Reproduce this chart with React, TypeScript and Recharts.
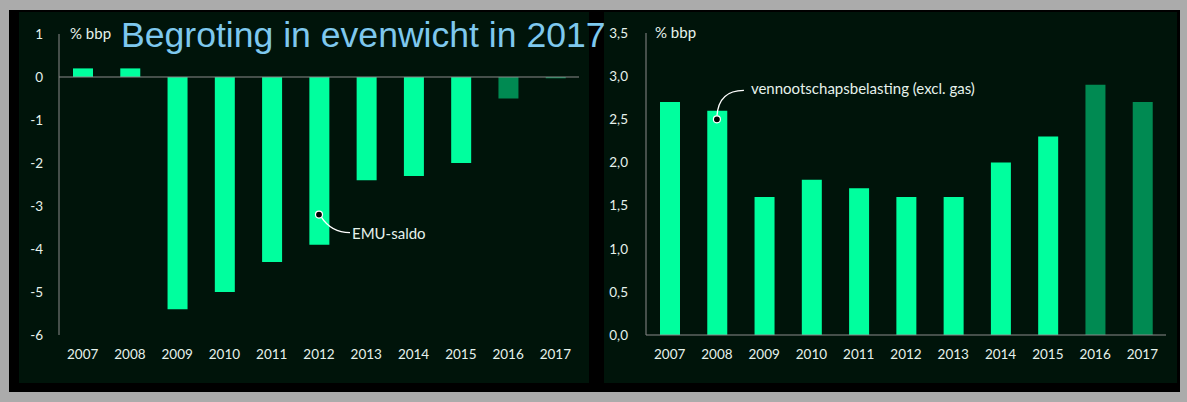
import { BarChart, Bar, XAxis, YAxis, Cell, ReferenceLine, ReferenceDot } from "recharts";

const years = ["2007", "2008", "2009", "2010", "2011", "2012", "2013", "2014", "2015", "2016", "2017"];
const emuSaldo = [0.2, 0.2, -5.4, -5.0, -4.3, -3.9, -2.4, -2.3, -2.0, -0.5, -0.03];
const vpb = [2.7, 2.6, 1.6, 1.8, 1.7, 1.6, 1.6, 2.0, 2.3, 2.9, 2.7];
const forecastYears = ["2016", "2017"];
const leftTicks = [-6, -5, -4, -3, -2, -1, 0, 1];
const rightTicks = [0, 0.5, 1, 1.5, 2, 2.5, 3, 3.5];

const title = "Begroting in evenwicht in 2017";
const unitLabel = "% bbp";
const leftNote = "EMU-saldo";
const rightNote = "vennootschapsbelasting (excl. gas)";

const BRIGHT = "#00ff9e";
const DARK = "#008a52";
const PANEL = "#00140a";
const TEXT = "#e6f2ec";
const AXIS = "#8a8a8a";
const FONT = "Lato, 'Open Sans', sans-serif";

const leftData = years.map((year, i) => ({ year, value: emuSaldo[i] }));
const rightData = years.map((year, i) => ({ year, value: vpb[i] }));

const tickStyle = { fill: TEXT, fontSize: 13.5, fontFamily: FONT };

function LeftNote(props: any) {
  const { cx, cy } = props;
  return (
    <g>
      <path
        d={`M ${cx + 2} ${cy + 2} C ${cx + 9} ${cy + 13}, ${cx + 18} ${cy + 18}, ${cx + 31} ${cy + 18}`}
        stroke="#ffffff"
        strokeWidth={1.3}
        fill="none"
      />
      <circle cx={cx} cy={cy} r={3.5} fill="#000" stroke="#fff" strokeWidth={1.2} />
      <text x={cx + 33} y={cy + 24} fill={TEXT} fontSize={15} fontFamily={FONT}>
        {leftNote}
      </text>
    </g>
  );
}

function RightNote(props: any) {
  const { cx, cy } = props;
  return (
    <g>
      <path
        d={`M ${cx} ${cy - 3} C ${cx + 1} ${cy - 20}, ${cx + 9} ${cy - 29}, ${cx + 27} ${cy - 29}`}
        stroke="#ffffff"
        strokeWidth={1.3}
        fill="none"
      />
      <circle cx={cx} cy={cy} r={3.5} fill="#000" stroke="#fff" strokeWidth={1.2} />
      <text x={cx + 34} y={cy - 25} fill={TEXT} fontSize={15} fontFamily={FONT}>
        {rightNote}
      </text>
    </g>
  );
}

export default function App() {
  return (
    <div
      style={{
        position: "absolute",
        left: 0,
        top: 0,
        width: 1187,
        height: 402,
        background: "#ababab",
        fontFamily: FONT,
      }}
    >
      <div style={{ position: "absolute", left: 9, top: 10, width: 1171, height: 382, background: "#000" }} />

      {/* left panel: EMU-saldo */}
      <div style={{ position: "absolute", left: 19, top: 12, width: 570, height: 371, background: PANEL }}>
        <BarChart width={570} height={371} data={leftData} margin={{ top: 22, right: 10, bottom: 18, left: 0 }}>
          <XAxis
            dataKey="year"
            axisLine={false}
            tickLine={false}
            tickSize={6}
            tickMargin={8}
            height={30}
            tick={tickStyle}
            interval={0}
          />
          <YAxis
            domain={[-6, 1]}
            ticks={leftTicks}
            width={40}
            axisLine={{ stroke: AXIS }}
            tickLine={false}
            tickSize={6}
            tickMargin={10}
            tick={tickStyle}
            interval={0}
          />
          <ReferenceLine y={0} stroke={AXIS} />
          <Bar dataKey="value" barSize={20} isAnimationActive={false}>
            {leftData.map((d) => (
              <Cell key={d.year} fill={forecastYears.includes(d.year) ? DARK : BRIGHT} />
            ))}
          </Bar>
          <ReferenceDot x="2012" y={-3.2} r={3.5} shape={LeftNote} />
        </BarChart>
        <div style={{ position: "absolute", left: 51, top: 12, color: TEXT, fontSize: 15, lineHeight: "18px" }}>
          {unitLabel}
        </div>
      </div>

      {/* right panel: vennootschapsbelasting */}
      <div style={{ position: "absolute", left: 604, top: 12, width: 573, height: 371, background: PANEL }}>
        <BarChart width={573} height={371} data={rightData} margin={{ top: 21, right: 11, bottom: 18, left: 0 }}>
          <XAxis
            dataKey="year"
            axisLine={{ stroke: AXIS }}
            tickLine={false}
            tickSize={6}
            tickMargin={8}
            height={30}
            tick={tickStyle}
            interval={0}
          />
          <YAxis
            domain={[0, 3.5]}
            ticks={rightTicks}
            width={42}
            axisLine={{ stroke: AXIS }}
            tickLine={false}
            tickSize={6}
            tickMargin={12}
            tick={tickStyle}
            interval={0}
            tickFormatter={(v: number) => v.toFixed(1).replace(".", ",")}
          />
          <Bar dataKey="value" barSize={20} isAnimationActive={false}>
            {rightData.map((d) => (
              <Cell key={d.year} fill={forecastYears.includes(d.year) ? DARK : BRIGHT} />
            ))}
          </Bar>
          <ReferenceDot x="2008" y={2.5} r={3.5} shape={RightNote} />
        </BarChart>
        <div style={{ position: "absolute", left: 51, top: 11, color: TEXT, fontSize: 15, lineHeight: "18px" }}>
          {unitLabel}
        </div>
      </div>

      <svg width={1187} height={402} style={{ position: "absolute", left: 0, top: 0, pointerEvents: "none" }}>
        <text x={121} y={47} fill="#7ec8ee" fontSize={35.6} fontFamily="'Liberation Sans', Arial, sans-serif">
          {title}
        </text>
      </svg>
    </div>
  );
}
